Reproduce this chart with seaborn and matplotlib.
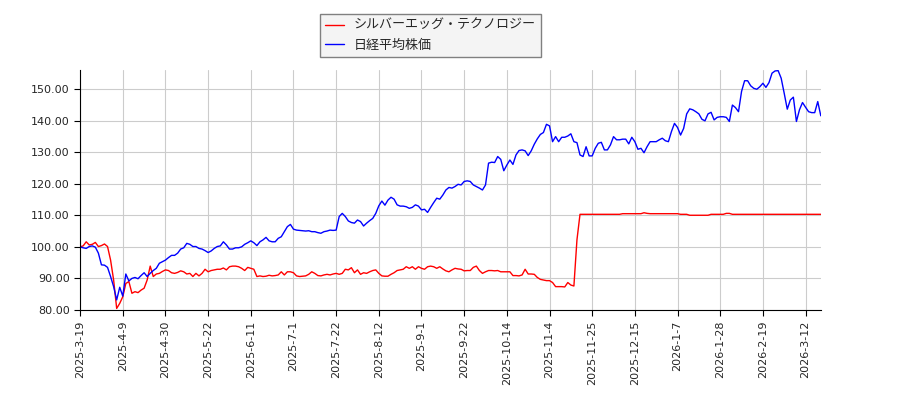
import pandas as pd
import numpy as np
import matplotlib

matplotlib.use('Agg')

import matplotlib.pyplot as plt
from matplotlib.font_manager import FontProperties
import seaborn as sns

sns.set_style("whitegrid", {'axes.edgecolor': 'black', 'xtick.bottom': True, 'ytick.left': True,
                            'grid.color': '#cccccc'})
plt.rcParams['font.family'] = ['DejaVu Sans', 'Noto Sans CJK JP']

# trading days (TSE holidays removed, one day absent from the source data)
holidays = ['2025-03-20', '2025-04-29', '2025-05-05', '2025-05-06', '2025-07-21', '2025-08-11',
            '2025-09-15', '2025-09-23', '2025-10-13', '2025-11-03', '2025-11-24', '2025-12-31',
            '2026-01-01', '2026-01-02', '2026-01-12', '2026-02-11', '2026-02-23', '2026-02-16']
dates = [d for d in pd.bdate_range('2025-03-19', '2026-03-19') if d.strftime('%Y-%m-%d') not in holidays]

label_silver = 'シルバーエッグ・テクノロジー'
label_nikkei = '日経平均株価'

silver = [100.0, 100.3, 101.6, 100.6, 100.8, 101.4, 100.1, 100.4, 100.9, 100.1,
          95.8, 89.5, 80.5, 82.1, 84.2, 88.4, 89.0, 85.3, 85.8, 85.5,
          86.3, 86.9, 89.5, 93.9, 90.6, 91.4, 91.6, 92.2, 92.7, 92.5,
          91.8, 91.6, 91.9, 92.4, 92.1, 91.4, 91.6, 90.6, 91.6, 90.8,
          91.6, 92.9, 92.1, 92.5, 92.7, 92.9, 92.9, 93.3, 92.7, 93.7,
          93.9, 93.9, 93.7, 93.2, 92.5, 93.5, 93.2, 92.9, 90.6, 90.8,
          90.6, 90.7, 91.0, 90.8, 90.9, 91.1, 92.1, 91.1, 92.1, 92.1,
          91.8, 90.8, 90.6, 90.7, 90.8, 91.3, 92.1, 91.6, 90.9, 90.8,
          91.1, 91.3, 91.1, 91.4, 91.6, 91.3, 91.6, 92.9, 92.7, 93.4,
          91.8, 92.7, 91.3, 91.8, 91.6, 92.1, 92.5, 92.7, 91.6, 90.8,
          90.7, 90.7, 91.3, 91.8, 92.5, 92.7, 92.9, 93.7, 93.2, 93.7,
          92.9, 93.7, 93.2, 92.9, 93.7, 93.9, 93.7, 93.2, 93.7, 93.0,
          92.4, 92.1, 92.7, 93.2, 93.0, 92.9, 92.4, 92.5, 92.5, 93.5,
          93.9, 92.5, 91.6, 92.1, 92.5, 92.5, 92.4, 92.5, 92.1, 92.1,
          92.1, 92.1, 90.9, 90.9, 90.8, 91.1, 92.9, 91.4, 91.4, 91.3,
          90.3, 89.7, 89.5, 89.3, 89.3, 88.7, 87.4, 87.4, 87.4, 87.3,
          88.7, 87.9, 87.6, 102.2, 110.3, 110.3, 110.3, 110.3, 110.3, 110.3,
          110.3, 110.3, 110.3, 110.3, 110.3, 110.3, 110.3, 110.3, 110.5, 110.5,
          110.5, 110.5, 110.5, 110.5, 110.5, 110.8, 110.6, 110.5, 110.5, 110.5,
          110.5, 110.5, 110.5, 110.5, 110.5, 110.5, 110.5, 110.3, 110.3, 110.3,
          110.0, 110.0, 110.0, 110.0, 110.0, 110.0, 110.0, 110.3, 110.3, 110.3,
          110.3, 110.3, 110.6, 110.6, 110.3, 110.3, 110.3, 110.3, 110.3, 110.3,
          110.3, 110.3, 110.3, 110.3, 110.3, 110.3, 110.3, 110.3, 110.3, 110.3,
          110.3, 110.3, 110.3, 110.3, 110.3, 110.3, 110.3, 110.3, 110.3, 110.3,
          110.3, 110.3, 110.3, 110.3]

nikkei = [100.0, 99.7, 99.5, 100.1, 100.3, 99.9, 98.0, 94.3, 94.2, 93.5,
          90.6, 87.4, 83.2, 87.2, 84.4, 91.4, 89.2, 90.0, 90.3, 89.9,
          90.9, 91.8, 90.6, 91.6, 92.5, 93.2, 94.8, 95.3, 95.8, 96.6,
          97.3, 97.3, 98.0, 99.3, 99.7, 101.1, 100.8, 100.1, 100.1, 99.5,
          99.3, 98.8, 98.2, 98.7, 99.5, 100.1, 100.3, 101.6, 100.6, 99.3,
          99.3, 99.7, 99.7, 100.0, 100.8, 101.3, 101.9, 101.3, 100.4, 101.6,
          102.2, 103.0, 101.9, 101.6, 101.6, 102.7, 103.2, 104.8, 106.4, 107.1,
          105.6, 105.3, 105.2, 105.1, 105.0, 105.1, 104.8, 104.8, 104.5, 104.3,
          104.8, 105.0, 105.3, 105.2, 105.3, 109.6, 110.6, 109.6, 108.2, 107.7,
          107.5, 108.5, 108.0, 106.6, 107.5, 108.3, 109.0, 110.6, 113.0, 114.5,
          113.2, 114.8, 115.7, 115.1, 113.3, 112.9, 112.9, 112.7, 112.2, 112.5,
          113.3, 112.9, 111.7, 111.9, 110.9, 112.5, 114.0, 115.4, 115.1, 116.4,
          118.0, 118.8, 118.6, 119.1, 119.8, 119.6, 120.7, 120.9, 120.7, 119.6,
          119.1, 118.6, 118.0, 119.6, 126.5, 126.8, 126.7, 128.6, 127.7, 124.1,
          125.9, 127.5, 126.1, 129.1, 130.5, 130.7, 130.4, 128.9, 130.4, 132.5,
          134.2, 135.6, 136.2, 138.8, 138.3, 133.3, 134.9, 133.3, 134.7, 134.7,
          135.1, 135.8, 133.3, 133.0, 129.1, 128.6, 131.7, 128.8, 128.8, 131.2,
          132.8, 133.1, 130.7, 130.7, 132.3, 134.9, 133.9, 133.9, 134.1, 134.1,
          132.6, 134.7, 133.3, 130.9, 131.2, 129.8, 131.7, 133.3, 133.3, 133.3,
          133.9, 134.4, 133.6, 133.3, 136.5, 139.1, 137.8, 135.4, 137.5, 142.1,
          143.7, 143.4, 142.8, 142.1, 140.4, 139.9, 142.1, 142.6, 140.2, 141.0,
          141.2, 141.2, 141.0, 139.7, 144.9, 144.1, 142.8, 149.2, 152.6, 152.6,
          151.0, 150.2, 149.9, 150.7, 151.8, 150.5, 152.0, 155.0, 155.7, 155.8,
          153.4, 148.6, 143.6, 146.5, 147.4, 139.7, 143.4, 145.7, 144.2, 142.8,
          142.5, 142.5, 146.0, 141.5]

df = pd.DataFrame({'date': dates, 'silver': silver, 'nikkei': nikkei})
df['idx'] = np.arange(len(df))

fig, ax = plt.subplots(figsize=(9, 4), dpi=100)
fig.subplots_adjust(left=0.089, right=0.912, bottom=0.225, top=0.825)

sns.lineplot(data=df, x='idx', y='silver', color='red', linewidth=1, label=label_silver, ax=ax)
sns.lineplot(data=df, x='idx', y='nikkei', color='blue', linewidth=1, label=label_nikkei, ax=ax)

ticks = df['idx'][::14]
ax.set_xticks(ticks)
ax.set_xticklabels([f'{d.year}-{d.month}-{d.day}' for d in df['date'][::14]], rotation=90, fontsize=8)
ax.set_yticks(range(80, 151, 10))
ax.set_yticklabels([f'{v:.2f}' for v in range(80, 151, 10)], fontsize=8)
ax.set_xlim(0, len(df) - 1)
ax.set_ylim(80, 156)
ax.set_xlabel('')
ax.set_ylabel('')
ax.tick_params(length=4, color='black')
sns.despine(ax=ax)

ax.get_legend().remove()
handles, labels = ax.get_legend_handles_labels()
leg = fig.legend(handles, labels, loc='upper left', bbox_to_anchor=(320 / 900, 1 - 14 / 400),
                 borderaxespad=0, fancybox=False, framealpha=1, facecolor='#f4f4f4',
                 edgecolor='#808080', handlelength=1.4, handletextpad=0.8,
                 prop=FontProperties(family=['Noto Sans CJK JP', 'DejaVu Sans'], size=9.4))

plt.savefig('out.png')
